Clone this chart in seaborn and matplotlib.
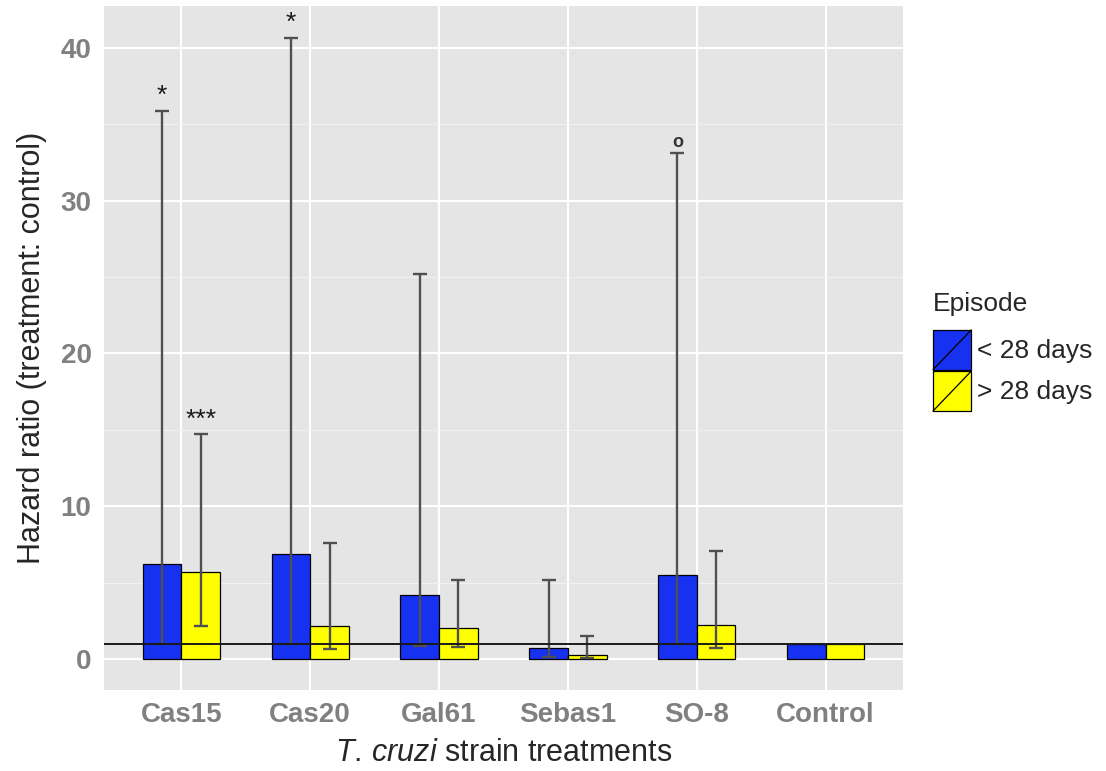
import numpy as np
import pandas as pd
import matplotlib
matplotlib.use("Agg")
import matplotlib.pyplot as plt
import seaborn as sns
from matplotlib.legend_handler import HandlerBase
from matplotlib.patches import Rectangle, Patch
from matplotlib.lines import Line2D
from matplotlib.ticker import MultipleLocator

# ---------------- data ----------------
strains = ["Cas15", "Cas20", "Gal61", "Sebas1", "SO-8", "Control"]
episodes = ["< 28 days", "> 28 days"]
hr_early = [6.2, 6.85, 4.2, 0.75, 5.5, 1.0]
lo_early = [1.0, 1.0, 0.85, 0.1, 1.0, np.nan]
hi_early = [35.9, 40.65, 25.2, 5.15, 33.1, np.nan]
hr_late = [5.7, 2.15, 2.05, 0.25, 2.25, 1.0]
lo_late = [2.15, 0.65, 0.8, 0.05, 0.75, np.nan]
hi_late = [14.7, 7.6, 5.15, 1.5, 7.1, np.nan]
signif_early = ["*", "*", "", "", "o", ""]
signif_late = ["***", "", "", "", "", ""]
colors = {"< 28 days": "#1631F0", "> 28 days": "#FFFF00"}

df = pd.DataFrame({
    "strain": strains * 2,
    "episode": [episodes[0]] * len(strains) + [episodes[1]] * len(strains),
    "hr": hr_early + hr_late,
})

# ---------------- style ----------------
sns.set_style("white")
plt.rcParams["font.family"] = ["Liberation Sans", "DejaVu Sans"]
plt.rcParams["mathtext.fontset"] = "custom"
plt.rcParams["mathtext.it"] = "Liberation Sans:italic"
plt.rcParams["mathtext.rm"] = "Liberation Sans"

fig = plt.figure(figsize=(11.06, 7.71), dpi=100)
ax = fig.add_axes([104 / 1106, 1 - 690 / 771, (903 - 104) / 1106, (690 - 6) / 771])
ax.set_facecolor("#E5E5E5")

sns.barplot(data=df, x="strain", y="hr", hue="episode", order=strains,
            hue_order=episodes, palette=colors, width=0.6, saturation=1,
            edgecolor="black", linewidth=0.9, errorbar=None, legend=False,
            ax=ax, zorder=2)

series = [(hr_early, lo_early, hi_early, signif_early),
          (hr_late, lo_late, hi_late, signif_late)]
for cont, (hr, lo, hi, sig) in zip(ax.containers, series):
    xs = np.array([p.get_x() + p.get_width() / 2 for p in cont.patches])
    hr = np.array(hr); lo = np.array(lo); hi = np.array(hi)
    m = ~np.isnan(lo)
    ax.errorbar(xs[m], hr[m], yerr=[hr[m] - lo[m], hi[m] - hr[m]], fmt="none",
                ecolor="#505050", elinewidth=1.7, capsize=5, capthick=1.7,
                zorder=3)
    for x, h, s in zip(xs, hi, sig):
        if s == "o":
            ax.annotate(s, (x, h), xytext=(0, 4.5), textcoords="offset points",
                        ha="center", va="baseline", fontsize=13,
                        fontweight="bold", color="#333333", zorder=5)
        elif s:
            ax.annotate(s, (x, h), xytext=(0, 2), textcoords="offset points",
                        ha="center", va="bottom", fontsize=19,
                        color="#1a1a1a", zorder=5)

ax.axhline(1, color="#1a1a1a", lw=1.4, zorder=4)

ax.set_xlim(-0.6, 5.6)
ax.set_ylim(-2.03, 42.75)
ax.yaxis.set_major_locator(MultipleLocator(10))
ax.yaxis.set_minor_locator(MultipleLocator(5))
ax.set_axisbelow(True)
ax.grid(which="major", color="white", lw=1.5)
ax.grid(which="minor", axis="y", color="#F3F3F3", lw=0.7)
for sp in ax.spines.values():
    sp.set_visible(False)
ax.tick_params(axis="both", which="major", length=4, width=1, color="#555555",
               labelsize=20, labelcolor="#808080", pad=5)
ax.tick_params(axis="y", which="minor", length=0)
for lbl in ax.get_xticklabels() + ax.get_yticklabels():
    lbl.set_fontweight("bold")

ax.set_xlabel(r"$\mathit{T.\,cruzi}$ strain treatments", fontsize=22,
              labelpad=7)
ax.set_ylabel("Hazard ratio (treatment: control)", fontsize=22, labelpad=10)


class SlashHandler(HandlerBase):
    def create_artists(self, legend, orig_handle, xdescent, ydescent, width,
                       height, fontsize, trans):
        r = Rectangle((-xdescent, -ydescent), width, height,
                      facecolor=orig_handle.get_facecolor(), edgecolor="black",
                      lw=0.9, transform=trans)
        l = Line2D([-xdescent, -xdescent + width], [-ydescent, -ydescent + height],
                   color="black", lw=0.9, transform=trans)
        return [r, l]


handles = [Patch(facecolor=colors[e]) for e in episodes]
leg = fig.legend(handles, episodes, title="Episode", loc="upper left",
                 bbox_to_anchor=(933 / 1106, 1 - 292 / 771),
                 bbox_transform=fig.transFigure, frameon=False, fontsize=19,
                 title_fontsize=19, handler_map={Patch: SlashHandler()},
                 handlelength=1.45, handleheight=1.95, labelspacing=0.05,
                 handletextpad=0.2, borderpad=0.0, borderaxespad=0.0,
                 alignment="left")
leg._legend_box.sep = 10

fig.savefig("out.png", dpi=100)
